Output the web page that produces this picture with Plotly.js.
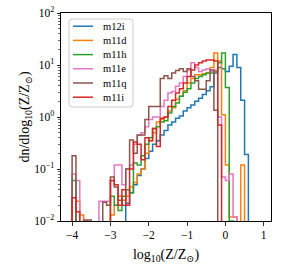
<!DOCTYPE html>
<html>
<head>
<meta charset="utf-8">
<script src="https://cdn.plot.ly/plotly-3.0.1.min.js"></script>
<style>html,body{margin:0;padding:0;background:#fff;}#chart{width:282px;height:271px;}</style>
</head>
<body>
<div id="chart"></div>
<script>
// Histogram bins: left edge of first bin and bin width (log10 Z/Zsun)
const binStart = -4.0;
const binWidth = 0.1;

const seriesNames = ["m12i", "m11d", "m11h", "m11e", "m11q", "m11i"];
const seriesColors = ["#1f77b4", "#ff7f0e", "#2ca02c", "#e377c2", "#8c564b", "#d62728"];

// dn/dlog10(Z/Zsun) per bin, bins from -4.0 to 0.7 (0 = empty bin)
const m12i = [0,0,0,0,0,0,0,0,0,0, 0,0,0,0,0.022,0.035,0.05,0.075,0.1,0.16,
  0.22,0.3,0.35,0.45,0.55,0.7,0.8,0.95,1.05,1.3, 1.5,1.7,2.0,2.3,2.7,3.2,3.8,7,9,8.5,
  7.5,9.5,16,9,2.1,0.19,0];
const m11d = [0,0.024,0.013,0.01,0,0,0,0,0,0, 0.013,0.02,0.03,0.025,0.03,0.045,0.055,0.08,0.1,0.2,
  0.35,0.5,0.8,0.9,1.0,1.3,1.5,2.2,2.5,3.2, 4.5,5.5,6.5,6.5,6.8,7,9,17,12,1.1,
  0.12,0.012,0.012,0,0.12,0,0];
const m11h = [0.06,0,0,0,0,0,0,0,0,0, 0.03,0.02,0.016,0.03,0.04,0.035,0.13,0.12,0.18,0.3,
  0.4,0.6,0.65,0.8,0.85,1.2,1.6,1.85,2.5,3, 3.5,4.5,5.5,6,6.5,7,7,7.5,11,17,
  3.7,0.01,0,0,0,0,0];
const m11e = [0.08,0.06,0,0,0,0,0,0.024,0.024,0.024, 0.06,0.12,0.12,0.05,0.1,0.12,0.3,0.45,0.5,0.65,
  0.9,1.0,1.0,1.6,2.1,2.9,3.1,3.9,4.5,6, 8,11,9,7.5,8,8.5,7.5,8,1.0,0.07,
  0.06,0.08,0.012,0,0,0,0];
const m11q = [0.18,0,0,0.0105,0.0105,0,0,0,0.023,0.02, 0.07,0.045,0.025,0.02,0.1,0.36,0.2,0.45,0.45,0.9,
  1.6,1.6,1.6,5.5,6.2,5.5,7,7.8,8.5,7.5, 8.5,6,5,3.4,3.4,5,8,1.35,0,0,
  0,0,0,0,0,0,0];
const m11i = [0.028,0.015,0,0,0,0,0,0,0,0, 0.06,0.05,0.02,0.04,0.02,0.1,0.33,0.3,0.15,0.4,
  0.35,0.6,0.27,0.95,1.0,1.6,2.1,2.9,3.5,4.5, 6,8,10,11,12,12.5,12.5,12,0.7,0,
  0,0,0,0,0,0,0];
const seriesValues = [m12i, m11d, m11h, m11e, m11q, m11i];

const floorVal = 1e-4; // below the visible axis range, used for empty bins

function stepTrace(vals, name, color) {
  const n = vals.length;
  const x = [binStart];
  const y = [floorVal];
  for (let i = 0; i < n; i++) {
    x.push(+(binStart + i * binWidth).toFixed(4));
    y.push(vals[i] > 0 ? vals[i] : floorVal);
  }
  x.push(+(binStart + n * binWidth).toFixed(4));
  y.push(floorVal);
  return {
    type: "scatter", mode: "lines", name: name, x: x, y: y,
    line: {shape: "hv", color: color, width: 1.5},
    hoverinfo: "skip", showlegend: false
  };
}

const traces = seriesNames.map((nm, i) => stepTrace(seriesValues[i], nm, seriesColors[i]));

// Custom compact legend (matplotlib-style), in plot-area fractions
const plotW = 210, plotH = 208;
const px = v => v / plotW;           // pixels -> paper x
const py = v => 1 - v / plotH;       // pixels from top -> paper y
const legL = 8, legR = 72, legT = 6, legB = 94, rad = 3;
const boxPath =
  `M ${px(legL + rad)} ${py(legT)} L ${px(legR - rad)} ${py(legT)} ` +
  `Q ${px(legR)} ${py(legT)} ${px(legR)} ${py(legT + rad)} ` +
  `L ${px(legR)} ${py(legB - rad)} Q ${px(legR)} ${py(legB)} ${px(legR - rad)} ${py(legB)} ` +
  `L ${px(legL + rad)} ${py(legB)} Q ${px(legL)} ${py(legB)} ${px(legL)} ${py(legB - rad)} ` +
  `L ${px(legL)} ${py(legT + rad)} Q ${px(legL)} ${py(legT)} ${px(legL + rad)} ${py(legT)} Z`;

const shapes = [{
  type: "path", xref: "paper", yref: "paper", path: boxPath,
  fillcolor: "rgba(255,255,255,0.8)", line: {color: "#cccccc", width: 1}
}];
const annotations = [];
const serif = "Liberation Serif, DejaVu Serif, serif";
seriesNames.forEach((nm, i) => {
  const yc = 13.2 + i * 14.2;
  shapes.push({
    type: "line", xref: "paper", yref: "paper",
    x0: px(12), x1: px(32), y0: py(yc), y1: py(yc),
    line: {color: seriesColors[i], width: 1.5}
  });
  annotations.push({
    xref: "paper", yref: "paper", x: px(40), y: py(yc),
    xanchor: "left", yanchor: "middle", showarrow: false,
    text: nm, font: {family: serif, size: 10.5, color: "#000"}
  });
});

const layout = {
  width: 282, height: 271,
  margin: {l: 61, r: 11, t: 13, b: 50},
  paper_bgcolor: "#fff", plot_bgcolor: "#fff",
  font: {family: serif, size: 11, color: "#000"},
  showlegend: false,
  shapes: shapes,
  annotations: annotations,
  xaxis: {
    range: [-4.29, 1.19],
    tickvals: [-4, -3, -2, -1, 0, 1],
    ticktext: ["\u22124", "\u22123", "\u22122", "\u22121", "0", "1"],
    ticks: "outside", ticklen: 3.5, tickwidth: 0.8, tickcolor: "#000",
    showline: true, linecolor: "#000", linewidth: 1, mirror: true,
    showgrid: false, zeroline: false,
    tickfont: {family: serif, size: 11.5},
    title: {text: "log<sub>10</sub>(Z/Z<sub>\u2299</sub>)", font: {family: serif, size: 14}, standoff: 8}
  },
  yaxis: {
    type: "log", range: [-2, 2],
    tickvals: [0.01, 0.1, 1, 10, 100],
    ticktext: ["10<sup>\u22122</sup>", "10<sup>\u22121</sup>", "10<sup>0</sup>", "10<sup>1</sup>", "10<sup>2</sup>"],
    ticks: "outside", ticklen: 3.5, tickwidth: 0.8, tickcolor: "#000",
    minor: {ticks: "outside", ticklen: 2, tickwidth: 0.6, tickcolor: "#000", dtick: "D1"},
    showline: true, linecolor: "#000", linewidth: 1, mirror: true,
    showgrid: false, zeroline: false,
    tickfont: {family: serif, size: 11.5},
    title: {text: "dn/dlog<sub>10</sub>(Z/Z<sub>\u2299</sub>)", font: {family: serif, size: 14}, standoff: 1}
  }
};

Plotly.newPlot("chart", traces, layout, {displayModeBar: false, staticPlot: true});
</script>
</body>
</html>
